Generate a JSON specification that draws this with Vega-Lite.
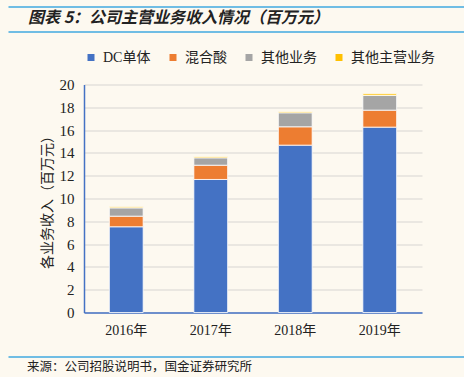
{
  "$schema": "https://vega.github.io/schema/vega-lite/v6.json",
  "background": "#FDF9F0",
  "padding": {"left": 8, "top": 6.5, "right": 42, "bottom": 0},
  "spacing": 18,
  "resolve": {"legend": {"color": "independent"}},
  "config": {"view": {"stroke": null}},
  "vconcat": [
    {
      "width": 338,
      "height": 25.4,
      "data": {"values": []},
      "mark": {"type": "point", "opacity": 0},
      "encoding": {
        "x": {"field": "v", "type": "quantitative", "scale": {"domain": [0, 1], "range": [-76, 380]}, "axis": null},
        "y": {"field": "v", "type": "quantitative", "scale": {"domain": [0, 1]},
              "axis": {"values": [0, 1], "grid": true, "gridColor": "#41A8E0", "gridWidth": 1.5, "labels": false, "ticks": false, "domain": false,
                       "title": "图", "titleX": -76, "titleY": 12, "titleAngle": 0, "titleAlign": "left", "titleOpacity": 0}}
      },
      "title": {"text": "图表 5：公司主营业务收入情况（百万元）", "orient": "top", "anchor": "start", "frame": "bounds", "dx": 20, "offset": -19,
                "font": "Noto Sans CJK SC", "fontSize": 16, "fontStyle": "italic", "fontWeight": "bold", "color": "#222222"}
    },
    {
      "width": 338,
      "height": 228,
      "data": {"values": [
        {"year": "2016年", "type": "DC单体", "i": 1, "value": 7.52},
        {"year": "2016年", "type": "混合酸", "i": 2, "value": 0.93},
        {"year": "2016年", "type": "其他业务", "i": 3, "value": 0.73},
        {"year": "2016年", "type": "其他主营业务", "i": 4, "value": 0.09},
        {"year": "2017年", "type": "DC单体", "i": 1, "value": 11.67},
        {"year": "2017年", "type": "混合酸", "i": 2, "value": 1.25},
        {"year": "2017年", "type": "其他业务", "i": 3, "value": 0.65},
        {"year": "2017年", "type": "其他主营业务", "i": 4, "value": 0.11},
        {"year": "2018年", "type": "DC单体", "i": 1, "value": 14.68},
        {"year": "2018年", "type": "混合酸", "i": 2, "value": 1.61},
        {"year": "2018年", "type": "其他业务", "i": 3, "value": 1.23},
        {"year": "2018年", "type": "其他主营业务", "i": 4, "value": 0.11},
        {"year": "2019年", "type": "DC单体", "i": 1, "value": 16.26},
        {"year": "2019年", "type": "混合酸", "i": 2, "value": 1.49},
        {"year": "2019年", "type": "其他业务", "i": 3, "value": 1.29},
        {"year": "2019年", "type": "其他主营业务", "i": 4, "value": 0.14}
      ]},
      "mark": {"type": "bar", "stroke": "#FFFFFF", "strokeWidth": 0.8},
      "encoding": {
        "x": {"field": "year", "type": "nominal", "sort": null,
              "scale": {"paddingInner": 0.6, "paddingOuter": 0.3},
              "axis": {"title": null, "labelAngle": 0, "ticks": false, "domainColor": "#4472C4", "domainWidth": 1.5,
                       "labelFont": "Liberation Serif, Noto Sans CJK SC", "labelFontSize": 14, "labelColor": "#222222", "labelPadding": 11}},
        "y": {"field": "value", "type": "quantitative", "stack": "zero", "scale": {"domain": [0, 20]},
              "axis": {"values": [0, 2, 4, 6, 8, 10, 12, 14, 16, 18, 20], "title": "各业务收入（百万元）",
                       "titleFont": "Noto Sans CJK SC", "titleFontSize": 14, "titleFontWeight": "normal", "titleColor": "#222222", "titlePadding": 5,
                       "grid": true, "gridColor": "#E3E1DC", "gridWidth": 1.5, "ticks": false,
                       "domainColor": "#4472C4", "domainWidth": 1.5,
                       "labelFont": "Liberation Serif", "labelFontSize": 15, "labelColor": "#222222", "labelPadding": 10}},
        "color": {"field": "type", "type": "nominal",
                  "scale": {"domain": ["DC单体", "混合酸", "其他业务", "其他主营业务"], "range": ["#4472C4", "#ED7D31", "#A5A5A5", "#FFC000"]},
                  "legend": {"orient": "top", "direction": "horizontal", "title": null, "symbolType": "square", "symbolSize": 49,
                             "symbolStrokeWidth": 0, "labelFont": "Liberation Serif, Noto Sans CJK SC", "labelFontSize": 14,
                             "labelColor": "#222222", "columnPadding": 15, "labelOffset": 5, "offset": 20}},
        "order": {"field": "i", "type": "quantitative"}
      }
    },
    {
      "width": 338,
      "height": 20,
      "data": {"values": []},
      "mark": {"type": "point", "opacity": 0},
      "encoding": {
        "x": {"field": "v", "type": "quantitative", "scale": {"domain": [0, 1], "range": [-76, 380]}, "axis": null},
        "y": {"field": "v", "type": "quantitative", "scale": {"domain": [0, 1]},
              "axis": {"values": [1], "grid": true, "gridColor": "#41A8E0", "gridWidth": 1.5, "labels": false, "ticks": false, "domain": false,
                       "title": "图", "titleX": -76, "titleY": 10, "titleAngle": 0, "titleAlign": "left", "titleOpacity": 0}}
      },
      "title": {"text": "来源：公司招股说明书，国金证券研究所", "orient": "top", "anchor": "start", "frame": "bounds", "dx": 19, "offset": -18,
                "font": "Noto Sans CJK SC", "fontSize": 12.5, "fontWeight": "normal", "color": "#222222"}
    }
  ]
}
